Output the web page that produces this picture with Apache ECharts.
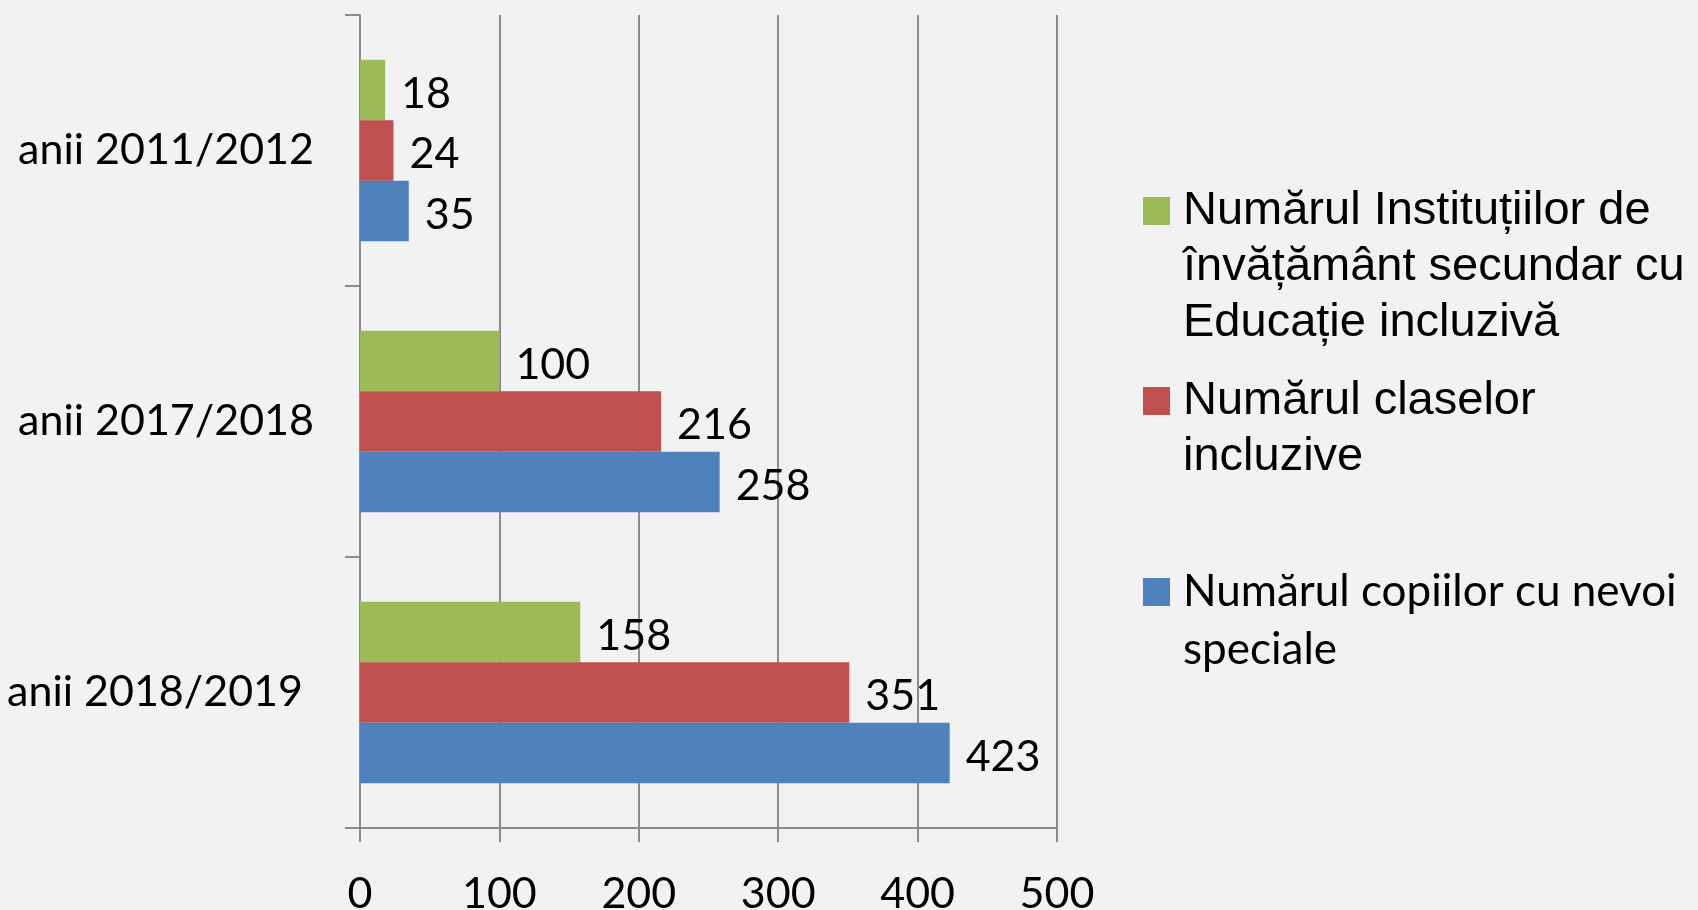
<!DOCTYPE html>
<html>
<head>
<meta charset="utf-8">
<script src="https://cdn.jsdelivr.net/npm/echarts@6/dist/echarts.min.js"></script>
<style>
html,body{margin:0;padding:0;background:#f2f2f2;}
#chart{width:1698px;height:910px;}
</style>
</head>
<body>
<div id="chart"></div>
<script>
const categories = ['anii 2011/2012', 'anii 2017/2018', 'anii 2018/2019'];
const seriesNames = [
  'Numărul Instituțiilor de învățământ secundar cu Educație incluzivă',
  'Numărul claselor incluzive',
  'Numărul copiilor cu nevoi speciale'
];
const legendTexts = [
  'Numărul Instituțiilor de\nînvățământ secundar cu\nEducație incluzivă',
  'Numărul claselor\nincluzive',
  'Numărul copiilor cu nevoi\nspeciale'
];
const institutii = [18, 100, 158];
const clase = [24, 216, 351];
const copii = [35, 258, 423];
const xTicks = [0, 100, 200, 300, 400, 500];

const colors = ['#9BBB59', '#C0504D', '#4F81BD'];
const calibriLike = 'Lato, "Open Sans", sans-serif';
const arialLike = '"Liberation Sans", Arial, sans-serif';
const gridColor = '#8c8c8c';

const chart = echarts.init(document.getElementById('chart'));
const seriesData = [institutii, clase, copii];
const lh = 56;
const legendTops = [183, 373, 564];
const legendFonts = [arialLike, arialLike, calibriLike];
const legendSizes = [47, 47, 44];
const legendLineHeights = [56, 56, 58];

const legends = seriesNames.map((name, i) => {
  const lines = legendTexts[i].split('\n').length;
  const l = legendLineHeights[i];
  const h = lines * l;
  // square marker aligned with the first text line; invisible points stretch the icon box
  const sqTop = l / 2 - 14;
  const icon = 'path://M0,0L0,0Z M0,' + sqTop + 'H27V' + (sqTop + 28) + 'H0Z M0,' + h + 'L0,' + h + 'Z';
  return {
    data: [{ name: name, icon: icon }],
    orient: 'vertical',
    left: 1143,
    top: legendTops[i] - (l - lh) / 2,
    padding: 0,
    itemWidth: 27,
    itemHeight: h,
    itemGap: 0,
    selectedMode: false,
    formatter: () => legendTexts[i],
    textStyle: {
      fontFamily: legendFonts[i],
      fontSize: legendSizes[i],
      lineHeight: l,
      color: '#000',
      padding: [0, 0, 0, 8]
    }
  };
});

const option = {
  backgroundColor: '#f2f2f2',
  animation: false,
  color: colors,
  legend: legends,
  grid: { left: 360, right: 641, top: 15, bottom: 82, containLabel: false, outerBoundsMode: 'none' },
  xAxis: {
    type: 'value',
    min: 0,
    max: 500,
    interval: 100,
    axisLine: { show: true, lineStyle: { color: gridColor, width: 2 } },
    axisTick: { show: true, length: 14, lineStyle: { color: gridColor, width: 2 } },
    splitLine: { show: true, lineStyle: { color: gridColor, width: 2 } },
    axisLabel: {
      margin: 45,
      fontFamily: calibriLike,
      fontSize: 43,
      color: '#000',
      formatter: (v) => String(v)
    }
  },
  yAxis: {
    type: 'category',
    inverse: true,
    data: categories.map((c, i) => i === 2 ? { value: c, textStyle: { padding: [0, 11, 0, 0] } } : c),
    axisLine: { show: true, lineStyle: { color: gridColor, width: 2 } },
    axisTick: { show: true, length: 15, lineStyle: { color: gridColor, width: 2 } },
    axisLabel: {
      margin: 46,
      fontFamily: calibriLike,
      fontSize: 43,
      color: '#000'
    },
    splitLine: { show: false }
  },
  series: seriesNames.map((name, i) => ({
    name: name,
    type: 'bar',
    data: seriesData[i],
    barGap: '0%',
    barCategoryGap: '33%',
    itemStyle: { color: colors[i] },
    label: {
      show: true,
      position: 'right',
      distance: 16,
      offset: [0, 4],
      fontFamily: calibriLike,
      fontSize: 43,
      color: '#000'
    }
  }))
};
chart.setOption(option);
</script>
</body>
</html>
